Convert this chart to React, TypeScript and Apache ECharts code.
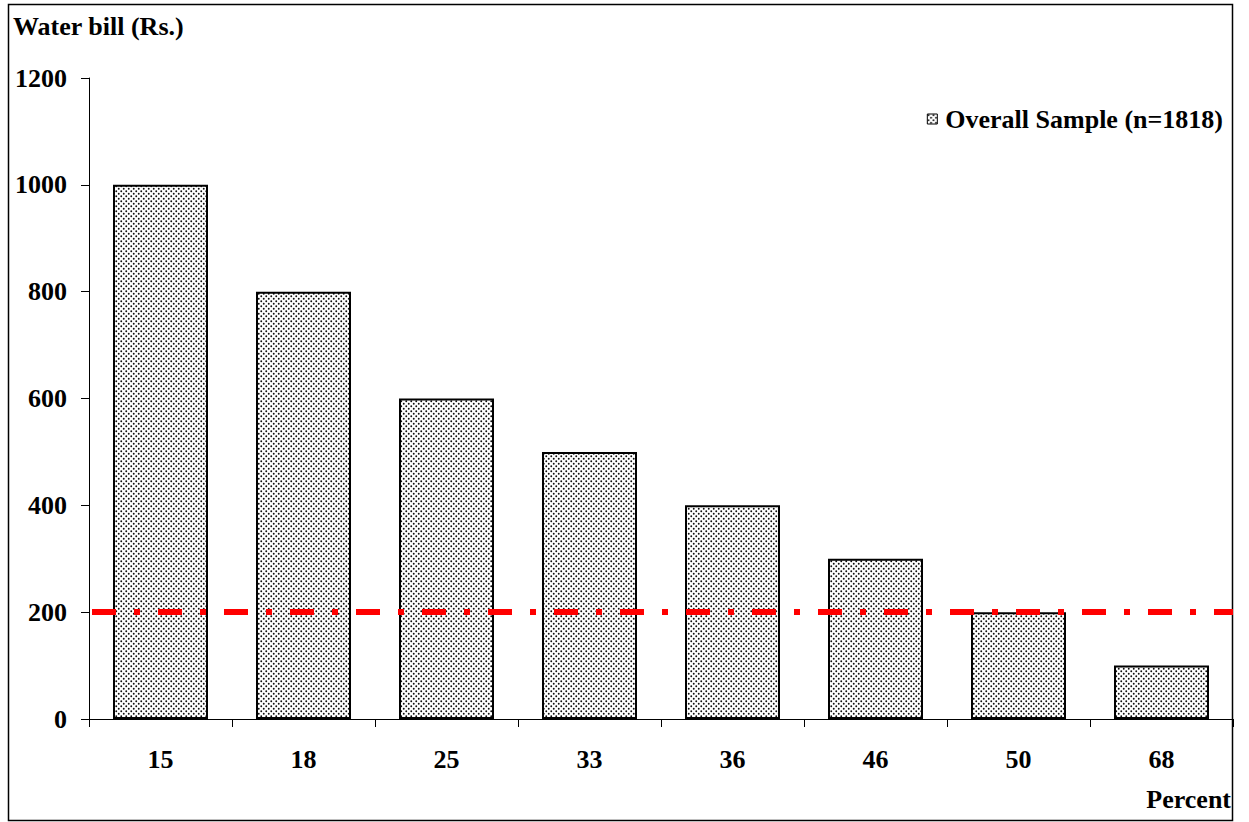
import React, { useEffect, useRef } from "react";
import * as echarts from "echarts";

const categories = ["15", "18", "25", "33", "36", "46", "50", "68"];
const waterBill = [1000, 800, 600, 500, 400, 300, 200, 100];
const referenceLevel = 200;
const seriesName = "Overall Sample (n=1818)";
const yTitle = "Water bill (Rs.)";
const xTitle = "Percent";

const FONT = "'Liberation Serif', 'Times New Roman', serif";

function makeDotPattern(): HTMLCanvasElement {
  const c = document.createElement("canvas");
  c.width = 10;
  c.height = 10;
  const ctx = c.getContext("2d")!;
  ctx.fillStyle = "#ffffff";
  ctx.fillRect(0, 0, 10, 10);
  ctx.fillStyle = "#111111";
  const pts = [
    [1.25, 1.25], [6.25, 1.25],
    [3.75, 3.75], [8.75, 3.75],
    [1.25, 6.25], [6.25, 6.25],
    [3.75, 8.75], [8.75, 8.75],
  ];
  for (const [x, y] of pts) {
    ctx.beginPath();
    ctx.arc(x, y, 0.95, 0, Math.PI * 2);
    ctx.fill();
  }
  return c;
}

export default function App() {
  const ref = useRef<HTMLDivElement>(null);
  useEffect(() => {
    if (!ref.current) return;
    const chart = echarts.init(ref.current, null, { renderer: "svg" });
    const pattern = { image: makeDotPattern(), repeat: "repeat" };
    chart.setOption({
      animation: false,
      backgroundColor: "#ffffff",
      grid: { left: 89, right: 16, top: 78, bottom: 103 },
      legend: {
        right: 21,
        top: 101,
        itemWidth: 10,
        itemHeight: 10,
        itemGap: 5,
        icon: "rect",
        data: [seriesName],
        textStyle: {
          fontFamily: FONT,
          fontWeight: "bold",
          fontSize: 26,
          color: "#000",
          padding: [0, 0, 0, 3],
        },
        itemStyle: { borderColor: "#000", borderWidth: 1 },
      },
      xAxis: {
        type: "category",
        data: categories,
        axisLine: { lineStyle: { color: "#000", width: 1 } },
        axisTick: { show: true, length: 8, alignWithLabel: false, lineStyle: { color: "#000" } },
        axisLabel: { margin: 27, fontFamily: FONT, fontWeight: "bold", fontSize: 26, color: "#000" },
        splitLine: { show: false },
      },
      yAxis: {
        type: "value",
        min: 0,
        max: 1200,
        interval: 200,
        axisLine: { show: true, lineStyle: { color: "#000", width: 1 } },
        axisTick: { show: true, length: 8, lineStyle: { color: "#000" } },
        axisLabel: {
          margin: 22,
          fontFamily: FONT,
          fontWeight: "bold",
          fontSize: 26,
          color: "#000",
          formatter: (v: number) => String(v),
        },
        splitLine: { show: false },
      },
      series: [
        {
          name: seriesName,
          type: "bar",
          data: waterBill,
          barWidth: 95,
          itemStyle: { color: pattern, borderColor: "#000", borderWidth: 2 },
          markLine: {
            silent: true,
            symbol: ["none", "none"],
            label: { show: false },
            lineStyle: {
              color: "#ff0000",
              width: 6,
              type: [24, 18, 6, 18],
              dashOffset: 63,
              cap: "butt",
            },
            data: [{ yAxis: referenceLevel }],
          },
        },
      ],
      graphic: [
        {
          type: "rect",
          shape: { x: 8.5, y: 4.5, width: 1224, height: 816 },
          style: { fill: "none", stroke: "#000", lineWidth: 1.5 },
          silent: true,
        },
        {
          type: "text",
          left: 13,
          top: 13,
          style: { text: yTitle, fontFamily: FONT, fontWeight: "bold", fontSize: 26, fill: "#000" },
        },
        {
          type: "text",
          right: 18,
          top: 786,
          style: { text: xTitle, fontFamily: FONT, fontWeight: "bold", fontSize: 26, fill: "#000" },
        },
      ],
    });
    return () => chart.dispose();
  }, []);
  return (
    <div
      ref={ref}
      style={{ position: "absolute", left: 0, top: 0, width: 1249, height: 822 }}
    />
  );
}
